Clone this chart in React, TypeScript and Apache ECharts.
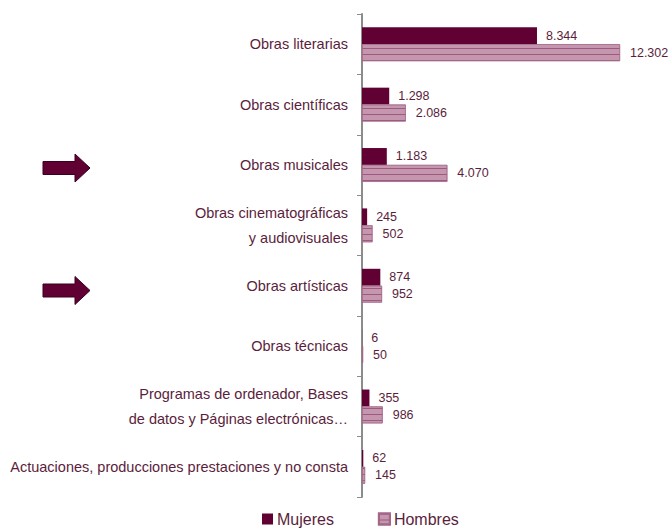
import React, { useEffect, useRef } from "react";
import * as echarts from "echarts";

const categories = [
  "Obras literarias",
  "Obras científicas",
  "Obras musicales",
  "Obras cinematográficas\ny audiovisuales",
  "Obras artísticas",
  "Obras técnicas",
  "Programas de ordenador, Bases\nde datos y Páginas electrónicas…",
  "Actuaciones, producciones prestaciones y no consta",
];
const mujeres = [8344, 1298, 1183, 245, 874, 6, 355, 62];
const hombres = [12302, 2086, 4070, 502, 952, 50, 986, 145];
const seriesNames = ["Mujeres", "Hombres"];

const fmt = (v: number) => String(v).replace(/\B(?=(\d{3})+(?!\d))/g, ".");

const arrowPoints = (x: number, yc: number) => [
  [x, yc - 6.5],
  [x + 32, yc - 6.5],
  [x + 32, yc - 14],
  [x + 47, yc],
  [x + 32, yc + 14],
  [x + 32, yc + 6.5],
  [x, yc + 6.5],
];

export default function App() {
  const ref = useRef<HTMLDivElement>(null);
  useEffect(() => {
    if (!ref.current) return;
    const chart = echarts.init(ref.current, null, { renderer: "svg" });
    const textColor = "#5a1e3c";
    const font = "'Liberation Sans', Arial, sans-serif";
    chart.setOption({
      animation: false,
      textStyle: { fontFamily: font },
      grid: { left: 362, right: 13.4, top: 14, bottom: 32, containLabel: false },
      legend: {
        top: 511,
        left: 262,
        padding: 0,
        icon: "rect",
        itemWidth: 11,
        itemHeight: 11,
        itemGap: 44,
        textStyle: { fontSize: 16, lineHeight: 16, color: textColor, fontFamily: font, padding: [0, 0, 0, -1] },
        data: seriesNames,
      },
      xAxis: {
        type: "value",
        min: 0,
        max: 14000,
        show: false,
      },
      yAxis: {
        type: "category",
        inverse: true,
        data: categories,
        axisLine: { show: true, lineStyle: { color: "#8c8c8c", width: 2 } },
        axisTick: { show: true, inside: false, length: 5, lineStyle: { color: "#8c8c8c" } },
        axisLabel: {
          color: textColor,
          fontSize: 14.5,
          lineHeight: 25,
          margin: 14,
          align: "right",
          fontFamily: font,
        },
      },
      series: [
        {
          name: seriesNames[0],
          type: "bar",
          barGap: "0%",
          barCategoryGap: "44%",
          itemStyle: { color: "#600033" },
          label: {
            show: true,
            position: "right",
            distance: 9,
            color: textColor,
            fontSize: 12.5,
            fontFamily: font,
            formatter: (p: any) => fmt(p.value),
          },
          data: mujeres,
        },
        {
          name: seriesNames[1],
          type: "bar",
          itemStyle: {
            color: "#c497af",
            borderColor: "#a3678a",
            borderWidth: 0.6,
            decal: {
              symbol: "rect",
              symbolSize: 1,
              dashArrayX: [1, 0],
              dashArrayY: [1, 5],
              color: "#a0597e",
              rotation: 0,
            },
          },
          label: {
            show: true,
            position: "right",
            distance: 10,
            color: textColor,
            fontSize: 12.5,
            fontFamily: font,
            formatter: (p: any) => fmt(p.value),
          },
          data: hombres,
        },
      ],
      graphic: [
        {
          type: "polygon",
          shape: { points: arrowPoints(43, 168) },
          style: { fill: "#600033", stroke: "#3a0020", lineWidth: 1 },
        },
        {
          type: "polygon",
          shape: { points: arrowPoints(43, 290.5) },
          style: { fill: "#600033", stroke: "#3a0020", lineWidth: 1 },
        },
      ],
    });
    return () => chart.dispose();
  }, []);
  return (
    <div
      ref={ref}
      style={{ position: "absolute", left: 0, top: 0, width: 669, height: 529 }}
    />
  );
}
